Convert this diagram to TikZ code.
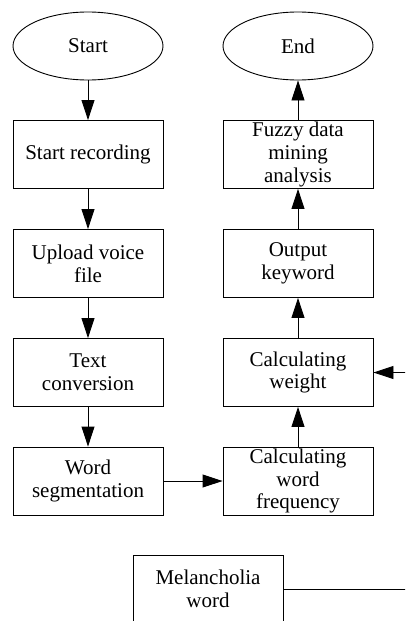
\documentclass[tikz,border=0pt]{standalone}
\usepackage{fontspec}
\setmainfont{Liberation Serif}
\usetikzlibrary{arrows.meta,shapes.geometric}
\begin{document}
\begin{tikzpicture}[x=1pt,y=-1pt,
  every node/.style={font=\fontsize{21}{22.8}\selectfont, align=center, inner sep=0pt},
  stepbox/.style={draw, rectangle, line width=0.9pt, minimum width=150pt, minimum height=68pt},
  term/.style={draw, ellipse, line width=0.9pt, minimum width=150pt, minimum height=68pt},
  arr/.style={line width=0.9pt, -{Triangle[length=20pt,width=13pt]}},
  ln/.style={line width=0.9pt}]
\useasboundingbox (0,0) rectangle (405,621);
\clip (0,0) rectangle (405,621);
\fill[white] (0,0) rectangle (405,621);
% left column
\node[term] (start) at (88,46) {Start};
\node[stepbox] (rec) at (88,154.5) {Start recording};
\node[stepbox] (up) at (88,263.5) {Upload voice\\file};
\node[stepbox] (txt) at (88,372.5) {Text\\conversion};
\node[stepbox] (seg) at (88,481) {Word\\segmentation};
% right column
\node[term] (end) at (298,46) {End};
\node[stepbox] (fuz) at (298,154.5) {Fuzzy data\\mining\\analysis};
\node[stepbox] (out) at (298,263.5) {Output\\keyword};
\node[stepbox] (wt) at (298,372.5) {Calculating\\weight};
\node[stepbox] (freq) at (298,481) {Calculating\\word\\frequency};
% bottom
\node[stepbox] (mel) at (208,589) {Melancholia\\word};
\coordinate (melend) at (410,589);
\coordinate (wtin) at (410,372.5);
% connectors
\draw[arr] (start) -- (rec);
\draw[arr] (rec) -- (up);
\draw[arr] (up) -- (txt);
\draw[arr] (txt) -- (seg);
\draw[arr] (seg) -- (freq);
\draw[arr] (freq) -- (wt);
\draw[arr] (wt) -- (out);
\draw[arr] (out) -- (fuz);
\draw[arr] (fuz) -- (end);
\draw[ln] (mel.east) -- (melend);
\draw[arr] (wtin) -- (wt.east);
\end{tikzpicture}
\end{document}
